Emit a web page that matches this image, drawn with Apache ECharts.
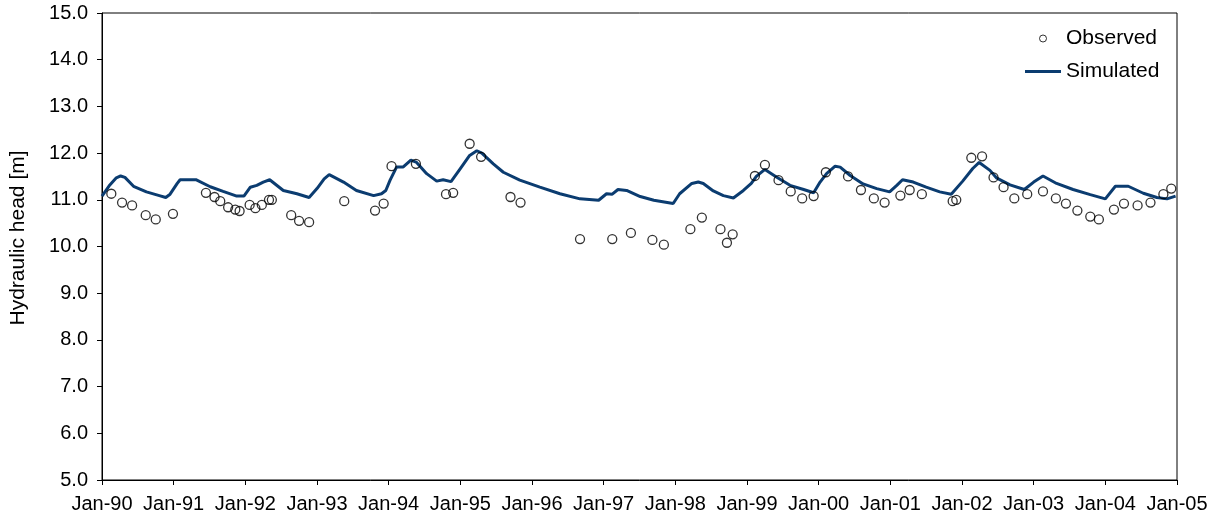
<!DOCTYPE html>
<html>
<head>
<meta charset="utf-8">
<script src="https://cdn.jsdelivr.net/npm/echarts@6/dist/echarts.min.js"></script>
<style>
  html, body { margin: 0; padding: 0; background: #fff; }
  #chart { width: 1220px; height: 528px; }
</style>
</head>
<body>
<div id="chart"></div>
<script>
// Simulated hydraulic head (decimal year, metres)
const simYear = [
  1990.00, 1990.10, 1990.20, 1990.26, 1990.32, 1990.44, 1990.62, 1990.80, 1990.89, 1990.95,
  1991.05, 1991.09, 1991.31, 1991.51, 1991.69, 1991.88, 1991.98, 1992.07, 1992.16, 1992.25,
  1992.34, 1992.53, 1992.72, 1992.89, 1993.00, 1993.10, 1993.17, 1993.37, 1993.55, 1993.79,
  1993.90, 1993.96, 1994.02, 1994.11, 1994.20, 1994.31, 1994.39, 1994.53, 1994.67, 1994.76,
  1994.87, 1995.00, 1995.13, 1995.23, 1995.30, 1995.46, 1995.60, 1995.83, 1996.11, 1996.39,
  1996.67, 1996.93, 1997.04, 1997.12, 1997.20, 1997.32, 1997.51, 1997.70, 1997.97, 1998.06,
  1998.23, 1998.32, 1998.39, 1998.53, 1998.67, 1998.81, 1998.95, 1999.06, 1999.13, 1999.25,
  1999.41, 1999.60, 1999.79, 1999.93, 2000.02, 2000.11, 2000.23, 2000.30, 2000.44, 2000.62,
  2000.81, 2000.99, 2001.09, 2001.17, 2001.32, 2001.50, 2001.69, 2001.85, 2002.01, 2002.15,
  2002.24, 2002.39, 2002.48, 2002.67, 2002.87, 2003.00, 2003.13, 2003.32, 2003.55, 2003.79,
  2004.00, 2004.14, 2004.32, 2004.53, 2004.72, 2004.86, 2004.98
];
const simHead = [
  11.08, 11.30, 11.47, 11.51, 11.48, 11.29, 11.17, 11.09, 11.05, 11.12,
  11.35, 11.43, 11.43, 11.28, 11.18, 11.08, 11.08, 11.27, 11.31, 11.38,
  11.43, 11.20, 11.13, 11.05, 11.24, 11.45, 11.54, 11.38, 11.20, 11.09,
  11.13, 11.20, 11.42, 11.70, 11.70, 11.85, 11.80, 11.56, 11.40, 11.43,
  11.39, 11.67, 11.95, 12.05, 12.00, 11.77, 11.59, 11.42, 11.27, 11.13,
  11.02, 10.99, 11.13, 11.12, 11.22, 11.20, 11.07, 10.99, 10.92, 11.13,
  11.35, 11.38, 11.35, 11.19, 11.09, 11.04, 11.20, 11.35, 11.50, 11.65,
  11.49, 11.31, 11.22, 11.15, 11.38, 11.56, 11.72, 11.70, 11.52, 11.34,
  11.24, 11.17, 11.31, 11.43, 11.38, 11.27, 11.17, 11.12, 11.40, 11.67,
  11.80, 11.63, 11.47, 11.32, 11.22, 11.38, 11.51, 11.35, 11.22, 11.11,
  11.02, 11.29, 11.29, 11.14, 11.05, 11.02, 11.08
];

// Observed hydraulic head (decimal year, metres)
const obsYear = [
  1990.13, 1990.28, 1990.42, 1990.61, 1990.75, 1990.99, 1991.45, 1991.57, 1991.65, 1991.76,
  1991.86, 1991.92, 1992.06, 1992.14, 1992.23, 1992.33, 1992.37, 1992.64, 1992.75, 1992.89,
  1993.38, 1993.81, 1993.93, 1994.04, 1994.38, 1994.80, 1994.90, 1995.13, 1995.29, 1995.70,
  1995.84, 1996.67, 1997.12, 1997.38, 1997.68, 1997.84, 1998.21, 1998.37, 1998.63, 1998.72,
  1998.80, 1999.11, 1999.25, 1999.44, 1999.61, 1999.77, 1999.93, 2000.10, 2000.41, 2000.59,
  2000.77, 2000.92, 2001.14, 2001.27, 2001.44, 2001.87, 2001.92, 2002.13, 2002.28, 2002.44,
  2002.58, 2002.73, 2002.91, 2003.13, 2003.31, 2003.45, 2003.61, 2003.79, 2003.91, 2004.12,
  2004.26, 2004.45, 2004.63, 2004.81, 2004.92
];
const obsHead = [
  11.13, 10.94, 10.88, 10.67, 10.58, 10.70, 11.15, 11.06, 10.97, 10.84,
  10.79, 10.76, 10.89, 10.82, 10.89, 11.00, 11.00, 10.67, 10.55, 10.52,
  10.97, 10.77, 10.92, 11.72, 11.77, 11.12, 11.15, 12.20, 11.92, 11.06,
  10.94, 10.16, 10.16, 10.29, 10.14, 10.04, 10.37, 10.62, 10.37, 10.08,
  10.26, 11.51, 11.75, 11.42, 11.18, 11.03, 11.08, 11.59, 11.50, 11.21,
  11.03, 10.94, 11.09, 11.21, 11.12, 10.97, 11.00, 11.90, 11.93, 11.48,
  11.27, 11.03, 11.12, 11.18, 11.03, 10.92, 10.77, 10.64, 10.58, 10.79,
  10.92, 10.88, 10.94, 11.12, 11.24
];

// Axis ranges
const yearStart = 1990, yearEnd = 2005;
const headMin = 5, headMax = 15;

const FONT = '"Liberation Sans", Arial, sans-serif';
const SIM_COLOR = '#0b3c70';

const simData = simYear.map((t, i) => [t, simHead[i]]);
const obsData = obsYear.map((t, i) => [t, obsHead[i]]);

const chart = echarts.init(document.getElementById('chart'), null, { renderer: 'canvas' });

const legendText = { fontFamily: FONT, fontSize: 21, color: '#000' };

chart.setOption({
  animation: false,
  backgroundColor: '#fff',
  grid: {
    left: 102, right: 43, top: 13, bottom: 48,
    show: true, borderColor: '#000', borderWidth: 1, backgroundColor: 'transparent'
  },
  legend: [
    {
      data: [{ name: 'Observed', icon: 'circle' }],
      left: 1039, top: 28, padding: 0,
      itemWidth: 36, itemHeight: 7, itemGap: 5,
      itemStyle: { color: 'rgba(255,255,255,0)', borderColor: '#000', borderWidth: 1 },
      textStyle: legendText
    },
    {
      data: [{ name: 'Simulated', icon: 'rect' }],
      left: 1025, top: 61, padding: 0,
      itemWidth: 36, itemHeight: 3, itemGap: 5,
      itemStyle: { color: SIM_COLOR, borderWidth: 0 },
      textStyle: legendText
    }
  ],
  xAxis: {
    type: 'value', min: yearStart, max: yearEnd, interval: 1,
    axisLine: { show: true, lineStyle: { color: '#000', width: 1 } },
    axisTick: { show: true, inside: false, length: 5, lineStyle: { color: '#000' } },
    splitLine: { show: false },
    axisLabel: {
      margin: 14, color: '#000', fontFamily: FONT, fontSize: 20,
      showMinLabel: true, showMaxLabel: true,
      formatter: v => 'Jan-' + String(Math.round(v)).slice(2)
    }
  },
  yAxis: {
    type: 'value', min: headMin, max: headMax, interval: 1,
    axisLine: { show: true, lineStyle: { color: '#000', width: 1 } },
    axisTick: { show: true, inside: false, length: 5, lineStyle: { color: '#000' } },
    splitLine: { show: false },
    axisLabel: {
      margin: 14, color: '#000', fontFamily: FONT, fontSize: 20,
      formatter: v => v.toFixed(1)
    }
  },
  graphic: [{
    type: 'text', x: 18, y: 238, rotation: Math.PI / 2,
    style: {
      text: 'Hydraulic head [m]', fill: '#000',
      font: '21px ' + FONT, align: 'center', verticalAlign: 'middle'
    }
  }],
  series: [
    {
      name: 'Simulated', type: 'line', data: simData,
      showSymbol: false, symbol: 'none', smooth: false,
      lineStyle: { color: SIM_COLOR, width: 3 },
      itemStyle: { color: SIM_COLOR },
      z: 2
    },
    {
      name: 'Observed', type: 'scatter', data: obsData,
      symbol: 'circle', symbolSize: 9,
      itemStyle: { color: 'rgba(255,255,255,0)', borderColor: '#000', borderWidth: 1.3 },
      z: 3
    }
  ]
});
</script>
</body>
</html>
